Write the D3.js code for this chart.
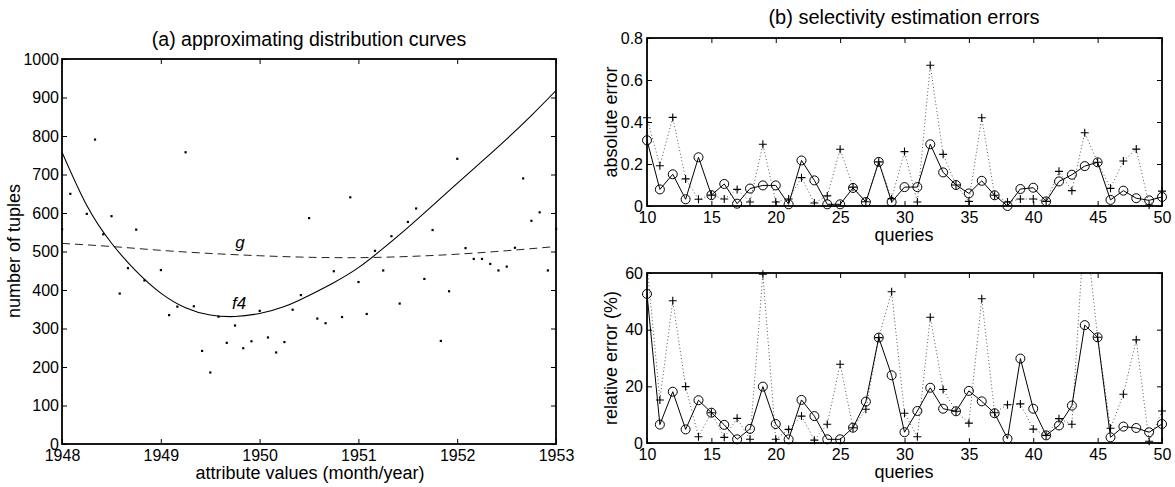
<!DOCTYPE html>
<html>
<head>
<meta charset="utf-8">
<script src="https://cdn.jsdelivr.net/npm/d3@7"></script>
<style>
  body { margin: 0; background: #fff; }
  svg text { font-family: "Liberation Sans", Arial, Helvetica, sans-serif; fill: #000; }
</style>
</head>
<body>
<svg id="chart" width="1175" height="487"></svg>
<script>
// ---------------- data ----------------
// (a) monthly number of tuples, Jan 1948 .. Jan 1953 (null = no dot visible)
let tuples = [558, 650, null, 598, 791, 545, 592, 391, 457, 557, 425, null,
  452, 335, 357, 758, 358, 242, 186, 331, 263, 308, 249, 267,
  346, 277, 238, 265, 349, 387, 587, 326, 314, 449, 330, 641,
  421, 338, 502, 451, 540, 365, 577, 612, 429, 556, 268, 397,
  741, 509, 481, 481, 468, 451, 461, 510, 690, 580, 602, 451, 559];

let f4Years = [1948, 1948.25, 1948.5, 1948.75, 1949, 1949.25, 1949.5, 1949.75, 1950, 1950.25, 1950.5,
  1950.75, 1951, 1951.25, 1951.5, 1951.75, 1952, 1952.25, 1952.5, 1952.75, 1953];
let f4Values = [758, 620, 522, 449, 392, 354, 335, 331, 339, 357, 386, 419, 458, 508, 562, 619, 677, 734, 792, 853, 918];
let gYears = [1948, 1948.5, 1949, 1949.5, 1950, 1950.5, 1951, 1951.5, 1952, 1952.5, 1953];
let gValues = [521, 513, 503, 495, 489, 485, 484, 487, 493, 502, 513];

// (b) errors per query 10..50 : "o" series (solid) and "+" series (dotted)
let queries = d3.range(10, 51);
let absO = [0.313, 0.079, 0.151, 0.032, 0.232, 0.052, 0.105, 0.011, 0.083, 0.098, 0.098, 0.008, 0.217, 0.122,
  0.008, 0.008, 0.086, 0.019, 0.21, 0.019, 0.09, 0.09, 0.294, 0.16, 0.1, 0.06, 0.12, 0.051, 0.0, 0.081,
  0.087, 0.022, 0.117, 0.149, 0.19, 0.208, 0.029, 0.073, 0.037, 0.027, 0.043];
let absP = [0.42, 0.192, 0.422, 0.129, 0.032, 0.052, 0.033, 0.079, 0.019, 0.294, 0.019, 0.033, 0.135, 0.014,
  0.048, 0.27, 0.09, 0.02, 0.21, 0.035, 0.259, 0.019, 0.67, 0.246, 0.1, 0.022, 0.42, 0.051, 0.019, 0.033,
  0.033, 0.022, 0.165, 0.073, 0.349, 0.208, 0.084, 0.214, 0.271, 0.005, 0.071];
let relO = [52.6, 6.5, 18.1, 4.8, 15.1, 10.7, 6.4, 1.3, 5.0, 19.9, 6.7, 1.3, 15.2, 9.5, 1.3, 1.3, 5.4, 14.6,
  37.2, 23.9, 3.8, 11.3, 19.5, 12.1, 11.2, 18.4, 14.7, 10.5, 1.5, 29.8, 12.1, 2.7, 6.2, 13.2, 41.6, 37.3,
  2.0, 5.8, 5.3, 3.8, 6.7];
let relP = [63, 15.2, 50.2, 19.9, 2.2, 10.7, 2.0, 8.7, 1.3, 59.6, 1.3, 4.8, 9.5, 1.0, 6.6, 27.8, 5.4, 11.9,
  37.2, 53.4, 10.5, 2.2, 44.4, 18.9, 11.2, 7.0, 50.9, 10.7, 13.5, 13.8, 4.9, 2.7, 8.6, 6.6, 79, 37.3,
  5.2, 17.2, 36.4, 0.6, 11.3];

// tick labels
let yearTicks = [1948, 1949, 1950, 1951, 1952, 1953];
let tupleTicks = [0, 100, 200, 300, 400, 500, 600, 700, 800, 900, 1000];
let queryTicks = [10, 15, 20, 25, 30, 35, 40, 45, 50];
let absTicks = [0, 0.2, 0.4, 0.6, 0.8];
let relTicks = [0, 20, 40, 60];

// ---------------- drawing ----------------
let svg = d3.select("#chart");
let tickFont = "16px";
let labelFont = "18px";

// MATLAB style box axes, ticks pointing inward on all 4 sides
let drawAxes = (x, y, xTicks, yTicks, xPad, yPad) => {
  let [x0, x1] = x.range();
  let [y1, y0] = y.range();
  let g = svg.append("g");
  let style = (a) => {
    a.select(".domain").remove();
    a.attr("font-size", tickFont).attr("font-family", null);
    a.selectAll("line").attr("stroke", "#000");
  };
  g.append("g").attr("transform", `translate(0,${y1})`)
    .call(d3.axisBottom(x).tickValues(xTicks).tickSize(-5).tickPadding(xPad).tickFormat(d3.format("")))
    .call(style);
  g.append("g").attr("transform", `translate(0,${y0})`)
    .call(d3.axisTop(x).tickValues(xTicks).tickSize(-5).tickFormat(""))
    .call(style);
  g.append("g").attr("transform", `translate(${x0},0)`)
    .call(d3.axisLeft(y).tickValues(yTicks).tickSize(-5).tickPadding(yPad).tickFormat(d3.format("")))
    .call(style);
  g.append("g").attr("transform", `translate(${x1},0)`)
    .call(d3.axisRight(y).tickValues(yTicks).tickSize(-5).tickFormat(""))
    .call(style);
  g.append("rect")
    .attr("x", x0).attr("y", y0)
    .attr("width", x1 - x0).attr("height", y1 - y0)
    .attr("fill", "none").attr("stroke", "#000").attr("stroke-width", 1.8);
};

let addClip = (id, x, y) => {
  svg.append("clipPath").attr("id", id).append("rect")
    .attr("x", x.range()[0]).attr("y", y.range()[1])
    .attr("width", x.range()[1] - x.range()[0])
    .attr("height", y.range()[0] - y.range()[1]);
};

let text = (str, x, y, size, opts = {}) => {
  let t = svg.append("text").attr("x", x).attr("y", y)
    .attr("font-size", size).attr("text-anchor", opts.anchor || "middle").text(str);
  if (opts.rotate) t.attr("transform", `rotate(-90,${x},${y})`);
  if (opts.italic) t.attr("font-style", "italic");
  return t;
};

// ---------- panel (a) ----------
let xa = d3.scaleLinear().domain([1948, 1953]).range([62, 556]);
let ya = d3.scaleLinear().domain([0, 1000]).range([444, 59]);
addClip("clipA", xa, ya);

let lineA = d3.line().x(d => xa(d[0])).y(d => ya(d[1])).curve(d3.curveNatural);

svg.append("path")
  .datum(gYears.map((yr, i) => [yr, gValues[i]]))
  .attr("d", lineA)
  .attr("fill", "none").attr("stroke", "#222").attr("stroke-width", 1)
  .attr("stroke-dasharray", "8,5")
  .attr("clip-path", "url(#clipA)");

svg.append("path")
  .datum(f4Years.map((yr, i) => [yr, f4Values[i]]))
  .attr("d", lineA)
  .attr("fill", "none").attr("stroke", "#000").attr("stroke-width", 1.1)
  .attr("clip-path", "url(#clipA)");

svg.append("g").selectAll("rect")
  .data(tuples.map((v, m) => ({ yr: 1948 + m / 12, v })).filter(d => d.v !== null))
  .join("rect")
  .attr("x", d => xa(d.yr) - 1)
  .attr("y", d => ya(d.v) - 1)
  .attr("width", 2.2).attr("height", 2.2)
  .attr("fill", "#000");

drawAxes(xa, ya, yearTicks, tupleTicks, 6, 3);

text("g", 240, 248, "17px", { italic: true });
text("f4", 239, 309, "17px", { italic: true });
text("(a) approximating distribution curves", 309, 46, "19.5px");
text("attribute values (month/year)", 310, 479, labelFont);
text("number of tuples", 20, 251, labelFont, { rotate: true });

// ---------- panel (b) ----------
let xb = d3.scaleLinear().domain([10, 50]).range([647, 1162]);
let yAbs = d3.scaleLinear().domain([0, 0.8]).range([206, 38]);
let yRel = d3.scaleLinear().domain([0, 60]).range([443, 273]);

let drawSeries = (y, clipId, oVals, pVals) => {
  let [ymin, ymax] = y.domain();
  let line = d3.line().x(d => xb(d.q)).y(d => y(d.v));
  let o = queries.map((q, i) => ({ q, v: oVals[i] }));
  let p = queries.map((q, i) => ({ q, v: pVals[i] }));

  // dotted "+" series
  svg.append("path").datum(p).attr("d", line)
    .attr("fill", "none").attr("stroke", "#555").attr("stroke-width", 1)
    .attr("stroke-dasharray", "1,2.5")
    .attr("clip-path", `url(#${clipId})`);
  // solid "o" series
  svg.append("path").datum(o).attr("d", line)
    .attr("fill", "none").attr("stroke", "#000").attr("stroke-width", 1)
    .attr("clip-path", `url(#${clipId})`);

  svg.append("g").selectAll("circle")
    .data(o.filter(d => d.v >= ymin && d.v <= ymax))
    .join("circle")
    .attr("cx", d => xb(d.q)).attr("cy", d => y(d.v)).attr("r", 4.5)
    .attr("fill", "none").attr("stroke", "#000").attr("stroke-width", 1);

  svg.append("g").selectAll("path")
    .data(p.filter(d => d.v >= ymin && d.v <= ymax))
    .join("path")
    .attr("d", d => `M${xb(d.q) - 4},${y(d.v)}h8M${xb(d.q)},${y(d.v) - 4}v8`)
    .attr("stroke", "#000").attr("stroke-width", 1.1);
};

addClip("clipAbs", xb, yAbs);
addClip("clipRel", xb, yRel);

drawSeries(yAbs, "clipAbs", absO, absP);
drawSeries(yRel, "clipRel", relO, relP);

drawAxes(xb, yAbs, queryTicks, absTicks, 6, 4);
drawAxes(xb, yRel, queryTicks, relTicks, 6, 4);

text("(b) selectivity estimation errors", 904, 24, "20px");
text("queries", 904, 241, labelFont);
text("queries", 904, 478, labelFont);
text("absolute error", 617, 122, labelFont, { rotate: true });
text("relative error (%)", 617, 358, labelFont, { rotate: true });
</script>
</body>
</html>
